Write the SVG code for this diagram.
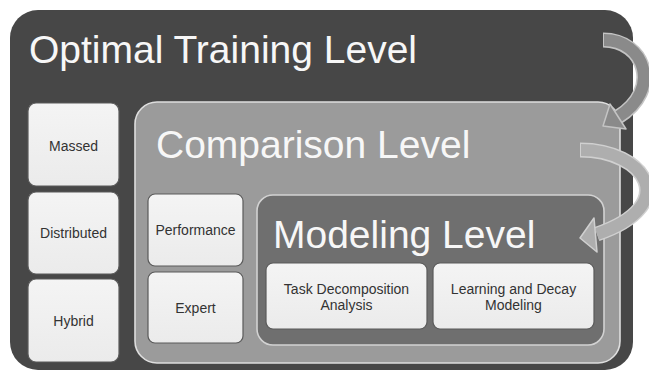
<svg xmlns="http://www.w3.org/2000/svg" width="649" height="379" viewBox="0 0 649 379">
  <defs>
    <linearGradient id="boxg" x1="0" y1="0" x2="0" y2="1">
      <stop offset="0" stop-color="#f4f4f4"/>
      <stop offset="1" stop-color="#ebebeb"/>
    </linearGradient>
  </defs>
  <style>
    .title { font-family: "Liberation Sans", Arial, sans-serif; font-size: 39px; fill: #f7f7f7; }
    .lbl { font-family: "Liberation Sans", Arial, sans-serif; font-size: 14px; fill: #333333; text-anchor: middle; }
    .box { fill: url(#boxg); stroke: #5a5a5a; stroke-width: 1.2; }
    .arrowOutline { fill: none; stroke-linecap: butt; }
  </style>
  <rect width="649" height="379" fill="#ffffff"/>

  <g id="optimal-level">
    <rect x="10" y="10" width="623" height="360" rx="28" fill="#474747"/>
    <text class="title" x="29" y="63">Optimal Training Level</text>
  </g>

  <g id="massed">
    <rect class="box" x="28" y="103" width="91" height="83" rx="8" stroke="#444"/>
    <text class="lbl" x="73.5" y="151">Massed</text>
  </g>
  <g id="distributed">
    <rect class="box" x="28" y="192" width="91" height="82" rx="8" stroke="#444"/>
    <text class="lbl" x="73.5" y="238">Distributed</text>
  </g>
  <g id="hybrid">
    <rect class="box" x="28" y="279" width="91" height="83" rx="8" stroke="#444"/>
    <text class="lbl" x="73.5" y="326">Hybrid</text>
  </g>

  <g id="comparison-level">
    <rect x="135" y="102" width="485" height="261" rx="22" fill="#9b9b9b" stroke="#dedede" stroke-width="1.6"/>
    <text class="title" x="156" y="158">Comparison Level</text>
  </g>

  <g id="performance">
    <rect class="box" x="148" y="194" width="95" height="72" rx="7"/>
    <text class="lbl" x="195.5" y="235">Performance</text>
  </g>
  <g id="expert">
    <rect class="box" x="148" y="272" width="95" height="71" rx="7"/>
    <text class="lbl" x="195.5" y="313">Expert</text>
  </g>

  <g id="modeling-level">
    <rect x="257" y="195" width="347" height="150" rx="16" fill="#6f6f6f" stroke="#d2d2d2" stroke-width="1.6"/>
    <text class="title" x="273" y="248">Modeling Level</text>
  </g>

  <g id="task-decomposition">
    <rect class="box" x="266" y="263" width="161" height="66" rx="7"/>
    <text class="lbl" x="346.5" y="294">Task Decomposition</text>
    <text class="lbl" x="346.5" y="310">Analysis</text>
  </g>
  <g id="learning-decay">
    <rect class="box" x="433" y="263" width="161" height="66" rx="7"/>
    <text class="lbl" x="513.5" y="294">Learning and Decay</text>
    <text class="lbl" x="513.5" y="310">Modeling</text>
  </g>

  <g id="connectors">
    <g id="arrow-optimal-to-comparison">
      <path class="arrowOutline" d="M 603 40 C 645 40, 662 90, 618 117" stroke="#c4c4c4" stroke-width="15"/>
      <path class="arrowOutline" d="M 604 40 C 645 40, 662 90, 618 117" stroke="#8a8a8a" stroke-width="12"/>
      <polygon points="626,129 610,104 603,126" fill="#8a8a8a" stroke="#c4c4c4" stroke-width="1.5" stroke-linejoin="round"/>
    </g>
    <g id="arrow-comparison-to-modeling">
      <path class="arrowOutline" d="M 580 150 C 645 150, 682 205, 597 234" stroke="#d0d0d0" stroke-width="15"/>
      <path class="arrowOutline" d="M 581 150 C 645 150, 682 205, 597 234" stroke="#aeaeae" stroke-width="12"/>
      <polygon points="597,252 594,218 580,238" fill="#aeaeae" stroke="#d0d0d0" stroke-width="1.5" stroke-linejoin="round"/>
    </g>
  </g>
</svg>
